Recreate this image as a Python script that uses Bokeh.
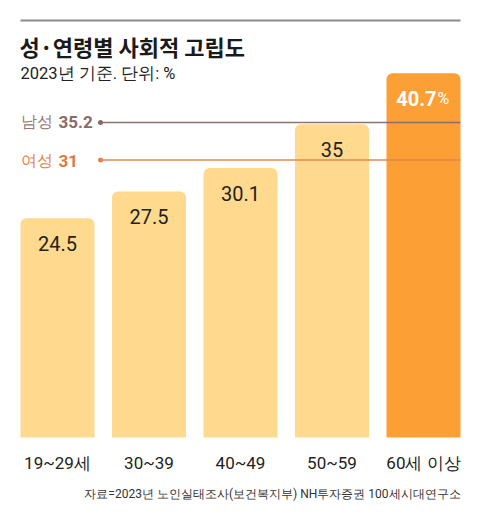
from bokeh.plotting import figure
from bokeh.models import Range1d, Label, ColumnDataSource
from bokeh.core.properties import value
from bokeh.embed import file_html
from bokeh.resources import INLINE

# ---- data ----
categories = ["19~29세", "30~39", "40~49", "50~59", "60세 이상"]
values = [24.5, 27.5, 30.1, 35, 40.7]
male_value = 35.2
female_value = 31
title = "성·연령별 사회적 고립도"
subtitle = "2023년 기준. 단위: %"
source_note = "자료=2023년 노인실태조사(보건복지부) NH투자증권 100세시대연구소"

W, H = 480, 520
PXX = 91.5    # px per category
PXY = 8.95    # px per percentage point
BASE = 437    # baseline from top (px)
X0 = 57       # first bar center (px)

x_start = -X0 / PXX
x_end = (W - X0) / PXX
y_start = -(H - BASE) / PXY
y_end = BASE / PXY

p = figure(width=W, height=H, x_range=Range1d(x_start, x_end), y_range=Range1d(y_start, y_end),
           output_backend="svg", toolbar_location=None, x_axis_type=None, y_axis_type=None,
           min_border=0, outline_line_color=None, background_fill_color="white")
p.grid.visible = False

NUM_FONT = "Roboto"
KR_FONT = "Noto Sans CJK KR"

idx = list(range(len(categories)))
light = "#FED98E"
strong = "#FCA035"
colors = [light] * (len(values) - 1) + [strong]
bw = 74 / PXX

src = ColumnDataSource(dict(x=idx, top=values, color=colors, cat=categories,
                            cy=[-25 / PXY] * len(idx)))
p.vbar(x="x", top="top", bottom=0, width=bw, fill_color="color", line_color=None,
       border_radius=(6, 6, 0, 0), source=src)

# reference lines
male_c = "#8A6A66"
female_c = "#E2834C"
line_x0 = 100 / PXX + x_start
line_x1 = idx[-1] + bw / 2
p.segment(x0=[line_x0], x1=[line_x1], y0=[male_value], y1=[male_value], line_color=male_c,
          line_width=1.6, line_alpha=0.95)
p.segment(x0=[line_x0], x1=[line_x1], y0=[female_value], y1=[female_value], line_color=female_c,
          line_width=1.6, line_alpha=0.95)
p.scatter(x=[line_x0, line_x0], y=[male_value, female_value], size=5,
          fill_color=[male_c, female_c], line_color=None)

# value labels in bars
off = 25 / PXY
lsrc = ColumnDataSource(dict(x=idx[:-1], y=[v - off for v in values[:-1]],
                             t=[str(v) for v in values[:-1]]))
p.text(x="x", y="y", text="t", source=lsrc, text_align="center", text_baseline="middle",
       text_font=value(NUM_FONT), text_font_size="20px", text_color="#222222")
p.text(x=[idx[-1] + 13 / PXX], y=[values[-1] - off], text=[str(values[-1])], text_align="right",
       text_baseline="middle", text_font=value(NUM_FONT), text_font_size="20px",
       text_font_style="bold", text_color="white")
p.text(x=[idx[-1] + 14 / PXX], y=[values[-1] - off], text=["%"], text_align="left",
       text_baseline="middle", text_font=value(NUM_FONT), text_font_size="16px",
       text_color="white")

# category labels
p.text(x="x", y="cy", text="cat", source=src, text_align="center",
       text_baseline="middle", text_font=value(NUM_FONT), text_font_size="17px",
       text_color="#222222")

# top rule
p.segment(x0=[20 / PXX + x_start], x1=[460 / PXX + x_start], y0=[(BASE - 20) / PXY],
          y1=[(BASE - 20) / PXY], line_color="#8a8a8a", line_width=2)

def lab(text, x, ytop, size, color="#222222", bold=False, align="left", font=KR_FONT):
    p.add_layout(Label(x=x, y=H - ytop, x_units="screen", y_units="screen", text=text,
                       text_font=font, text_font_size=size, text_color=color,
                       text_font_style="bold" if bold else "normal",
                       text_align=align, text_baseline="middle"))

lab(title, 19, 45, "22px", "#1a1a1a", bold=True)
lab(subtitle, 20, 73, "16.5px", "#222222", font=NUM_FONT)
lab("남성", 20, 121, "16px", "#9A7670", font=NUM_FONT)
lab(str(male_value), 58, 121, "17px", "#8A6A66", bold=True, font=NUM_FONT)
lab("여성", 20, 160, "16px", "#E2834C", font=NUM_FONT)
lab(str(female_value), 58, 160, "17px", "#E07A3E", bold=True, font=NUM_FONT)
lab(source_note, 460, 493, "12px", "#333333", align="right", font=NUM_FONT)

open("out.html", "w").write(file_html(p, INLINE))
